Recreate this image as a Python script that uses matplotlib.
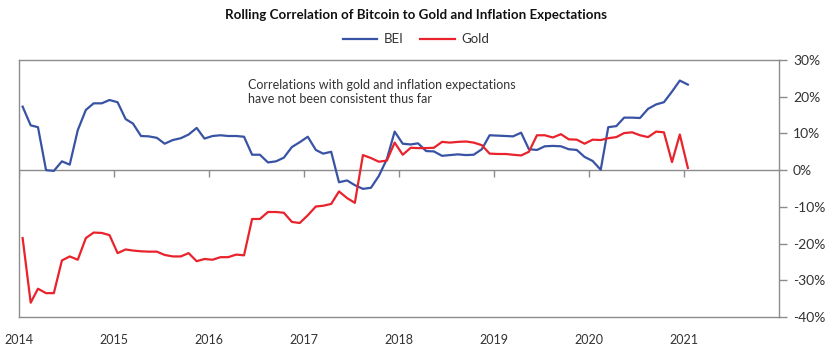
import matplotlib
matplotlib.use('Agg')

import numpy as np
import pandas as pd
import matplotlib.pyplot as plt
import matplotlib.dates as mdates
import matplotlib.ticker as ticker

plt.rcParams['font.family'] = ['Lato', 'DejaVu Sans']

# monthly points, Jan 2014 .. Jan 2021 (mid-month)
dates = pd.date_range('2014-01-01', periods=85, freq='MS') + pd.Timedelta(days=14)
years = pd.date_range('2014-01-01', '2021-01-01', freq='YS')

bei = [17.3, 12.2, 11.7, 0.0, -0.2, 2.4, 1.5, 10.9, 16.4, 18.2, 18.2, 19.1,
       18.5, 13.9, 12.7, 9.3, 9.2, 8.8, 7.2, 8.2, 8.7, 9.7, 11.5, 8.6,
       9.3, 9.5, 9.3, 9.3, 9.1, 4.2, 4.2, 2.1, 2.4, 3.4, 6.3, 7.6,
       9.1, 5.5, 4.5, 5.0, -3.3, -2.8, -4.1, -5.1, -4.8, -1.6, 3.0, 10.5,
       7.2, 7.0, 7.3, 5.2, 5.1, 3.9, 4.1, 4.3, 4.1, 4.2, 5.7, 9.5,
       9.4, 9.3, 9.2, 10.2, 5.7, 5.5, 6.5, 6.6, 6.5, 5.7, 5.5, 3.6,
       2.5, 0.1, 11.7, 12.0, 14.3, 14.3, 14.2, 16.7, 17.9, 18.5, 21.4, 24.4,
       23.3]

gold = [-18.5, -36.1, -32.3, -33.5, -33.5, -24.6, -23.5, -24.4, -18.5, -17.0, -17.1, -17.7,
        -22.6, -21.6, -21.9, -22.1, -22.2, -22.2, -23.1, -23.5, -23.5, -22.6, -24.8, -24.2,
        -24.4, -23.7, -23.7, -23.0, -23.2, -13.3, -13.3, -11.4, -11.4, -11.6, -14.1, -14.4,
        -12.3, -9.9, -9.7, -9.2, -5.8, -7.6, -8.9, 4.1, 3.3, 2.3, 2.6, 7.5,
        4.2, 6.1, 6.0, 6.0, 6.1, 7.7, 7.5, 7.7, 7.8, 7.5, 6.8, 4.5,
        4.4, 4.4, 4.2, 4.0, 5.0, 9.5, 9.5, 8.9, 9.8, 8.4, 8.3, 7.2,
        8.3, 8.2, 8.7, 9.0, 10.1, 10.3, 9.5, 9.0, 10.5, 10.3, 2.2, 9.7,
        0.6]

yticks = [-40, -30, -20, -10, 0, 10, 20, 30]

BLUE = '#3953a4'
RED = '#e8232c'
GRAY = '#8c8c8c'
TXT = '#333333'

fig = plt.figure(figsize=(8.4, 3.58), dpi=100)
ax = fig.add_axes([0.0226, 0.1145, 0.905, 0.7179])

# zero line and the little year ticks hanging off it
ax.axhline(0, color=GRAY, lw=1.0, zorder=1)
ax.vlines(years, -1.8, 0, color=GRAY, lw=1.0, zorder=1)

ax.plot(dates, bei, color=BLUE, lw=1.6, label='BEI', zorder=3)
ax.plot(dates, gold, color=RED, lw=1.6, label='Gold', zorder=3)

ax.set_xlim(pd.Timestamp('2014-01-01'), pd.Timestamp('2022-01-01'))
ax.set_ylim(-40, 30)

for s in ax.spines.values():
    s.set_color(GRAY)
    s.set_linewidth(1.0)

ax.set_xticks(years)
ax.xaxis.set_major_formatter(mdates.DateFormatter('%Y'))
ax.tick_params(axis='x', length=0, pad=12, labelsize=9, labelcolor=TXT)

ax.yaxis.tick_right()
ax.set_yticks(yticks)
ax.yaxis.set_major_formatter(ticker.FuncFormatter(lambda v, p: '%d%%' % v))
ax.tick_params(axis='y', direction='out', length=6, width=1, color=GRAY,
               pad=4, labelsize=10, labelcolor=TXT)

ax.text(0.3013, 0.925, 'Correlations with gold and inflation expectations\n'
        'have not been consistent thus far', transform=ax.transAxes,
        fontsize=9.0, color=TXT, va='top', ha='left', linespacing=1.15)

fig.suptitle('Rolling Correlation of Bitcoin to Gold and Inflation Expectations',
             x=0.495, y=0.975, fontsize=9.6, fontweight='bold', color='#111111')
fig.legend(loc='center', bbox_to_anchor=(0.495, 0.89), ncol=2, frameon=False,
           fontsize=9.5, handlelength=2.65, columnspacing=1.2, handletextpad=0.5,
           labelcolor=TXT)

fig.savefig('out.png', dpi=100)
